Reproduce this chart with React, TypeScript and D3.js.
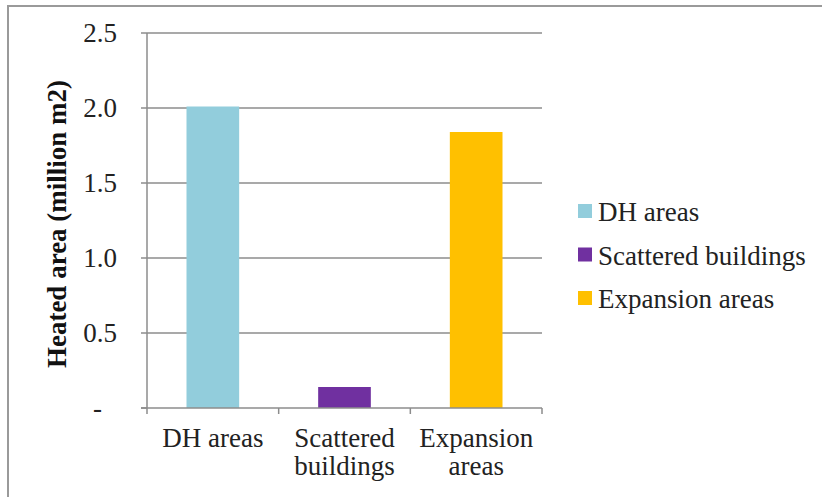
import React from "react";
import * as d3 from "d3";

const categories = ["DH areas", "Scattered buildings", "Expansion areas"];
const categoryLines = [["DH areas"], ["Scattered", "buildings"], ["Expansion", "areas"]];
const values = [2.01, 0.14, 1.84];
const colors = ["#92CDDC", "#7030A0", "#FFC000"];
const yTicks = [0, 0.5, 1.0, 1.5, 2.0, 2.5];
const yTitle = "Heated  area (million m2)";

export default function App() {
  const W = 822, H = 497;
  const left = 147, right = 542, top = 33, bottom = 408;
  const x = d3.scaleBand<string>().domain(categories).range([left, right]).paddingInner(0.6).paddingOuter(0.3);
  const xOuter = d3.scaleBand<string>().domain(categories).range([left, right]);
  const y = d3.scaleLinear().domain([0, 2.5]).range([bottom, top]);
  const font = "Liberation Serif, Times New Roman, Times, serif";
  const fmt = (v: number) => (v === 0 ? "-" : d3.format(".1f")(v));
  const axisColor = "#8c8c8c";
  const ts = { fontFamily: font };
  const fs = 27;
  return (
    <svg width={W} height={H} style={{ position: "absolute", left: 0, top: 0, background: "#fff", fontFamily: font }}>
      <rect x={8} y={6} width={W + 10} height={H + 10} fill="#fff" stroke="#9a9a9a" strokeWidth={2} />
      {yTicks.map((t) => (
        <g key={t}>
          {t > 0 && <line x1={left} x2={right} y1={y(t)} y2={y(t)} stroke={axisColor} strokeWidth={1.5} />}
          <line x1={left - 6} x2={left} y1={y(t)} y2={y(t)} stroke={axisColor} strokeWidth={1.5} />
          <text x={t === 0 ? 102 : 117} y={y(t)} dy="0.35em" textAnchor="end" fontSize={fs} fill="#222" style={ts}>
            {fmt(t)}
          </text>
        </g>
      ))}
      {categories.map((c, i) => (
        <rect key={c} x={x(c)} y={y(values[i])} width={x.bandwidth()} height={y(0) - y(values[i])} fill={colors[i]} />
      ))}
      <line x1={left} x2={left} y1={top} y2={bottom + 6} stroke={axisColor} strokeWidth={1.5} />
      <line x1={left - 6} x2={right} y1={bottom} y2={bottom} stroke={axisColor} strokeWidth={1.5} />
      {categories.map((c) => (
        <line key={c} x1={(xOuter(c) as number) + xOuter.bandwidth()} x2={(xOuter(c) as number) + xOuter.bandwidth()} y1={bottom} y2={bottom + 6} stroke={axisColor} strokeWidth={1.5} />
      ))}
      {categories.map((c, i) => (
        <text key={c} x={(xOuter(c) as number) + xOuter.bandwidth() / 2} y={447} textAnchor="middle" fontSize={fs} fill="#222" style={ts}>
          {categoryLines[i].map((l, j) => (
            <tspan key={j} x={(xOuter(c) as number) + xOuter.bandwidth() / 2} dy={j === 0 ? 0 : 28}>
              {l}
            </tspan>
          ))}
        </text>
      ))}
      <text transform={`translate(57,224) rotate(-90)`} textAnchor="middle" dy="0.35em" fontSize={fs} fontWeight="bold" fill="#111" style={ts}>
        {yTitle}
      </text>
      {categories.map((c, i) => (
        <g key={c} transform={`translate(578,${211 + i * 43.5})`}>
          <rect x={0} y={-7} width={14} height={14} fill={colors[i]} />
          <text x={20} y={1} dy="0.35em" fontSize={fs} fill="#222" style={ts}>
            {c}
          </text>
        </g>
      ))}
    </svg>
  );
}
